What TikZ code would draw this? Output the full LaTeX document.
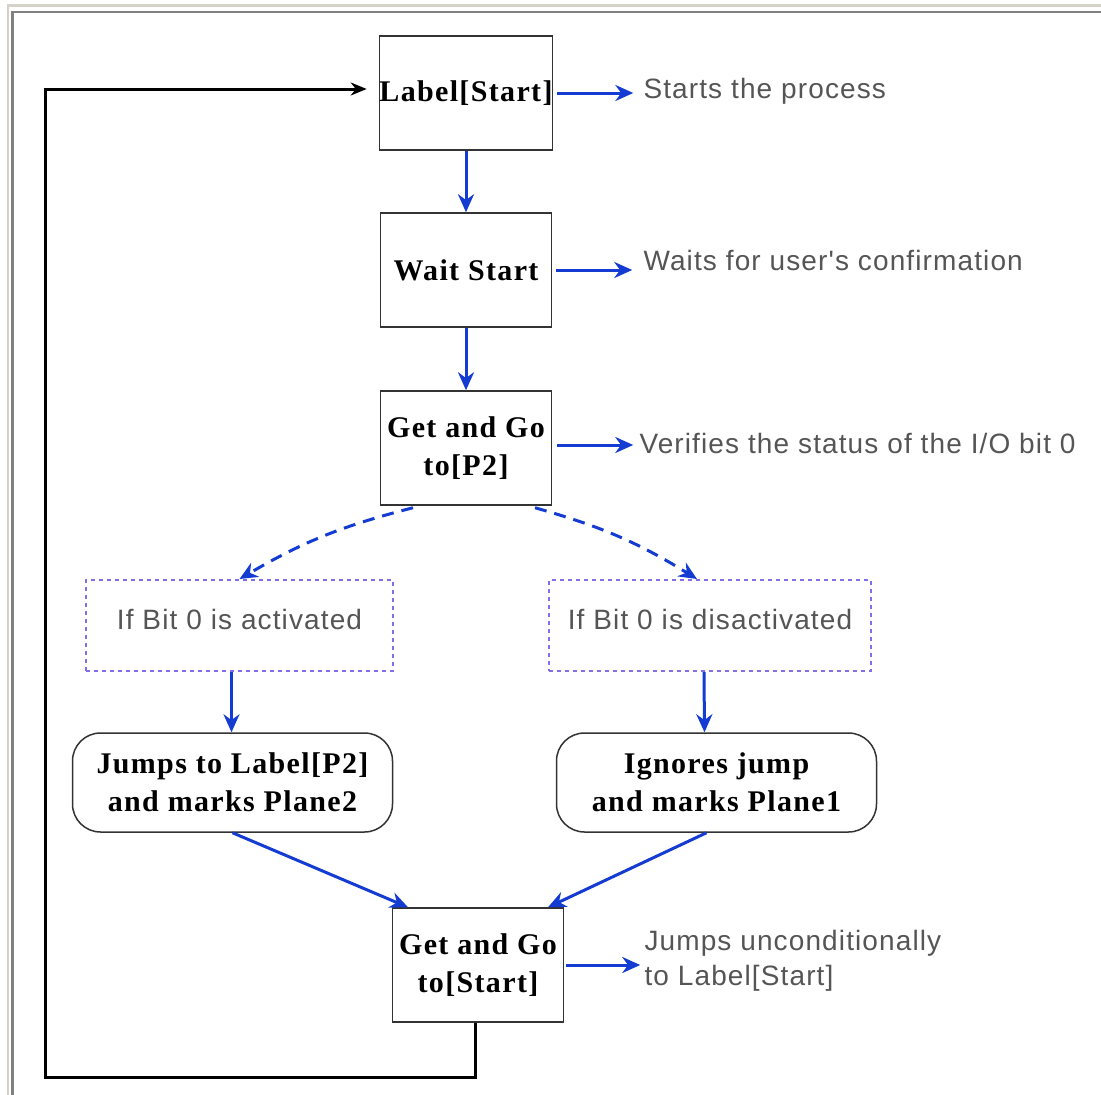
\documentclass[tikz,border=0pt]{standalone}
\usepackage{fontspec}
\setmainfont[LetterSpace=4.5]{Liberation Serif}
\newfontfamily\notefont[LetterSpace=4]{Liberation Sans}
\usetikzlibrary{arrows.meta}
\definecolor{flowblue}{RGB}{20,60,210}
\definecolor{notegray}{RGB}{85,85,85}
\definecolor{condpurple}{RGB}{130,110,230}
\definecolor{edgebeige}{RGB}{214,210,200}
\tikzset{
  stepbox/.style={draw=black!80, line width=1.5pt, minimum width=171pt, minimum height=114pt,
    inner xsep=0pt, align=center, font=\fontsize{30}{38}\selectfont\bfseries},
  roundbox/.style={draw=black!80, line width=1.5pt, rounded corners=28pt, minimum width=320pt,
    minimum height=99pt, align=center, font=\fontsize{30}{38}\selectfont\bfseries},
  condbox/.style={draw=condpurple, line width=2pt, dash pattern=on 4pt off 4pt,
    minimum height=91pt, text depth=12pt, font=\notefont\fontsize{28}{34}\selectfont, text=notegray},
  note/.style={anchor=west, align=left, font=\notefont\fontsize{28}{35}\selectfont, text=notegray},
  flow/.style={flowblue, line width=3pt, -{Stealth[length=18pt,width=16pt]}},
  jump/.style={flow, dashed, dash pattern=on 12pt off 8pt}
}

\begin{document}
\begin{tikzpicture}[x=1pt, y=-1pt]
    \useasboundingbox (0,0) rectangle (1101,1095);
    % frame of the screenshot
    \draw[edgebeige, line width=2.5pt] (8,1095) -- (8,5.5) -- (1101,5.5);
    \draw[black!50, line width=2.5pt] (12.5,1095) -- (12.5,12) -- (1101,12);

    % main column
    \node[stepbox] (start) at (466,93) {Label[Start]};
    \node[stepbox] (wait) at (466,270) {Wait Start};
    \node[stepbox] (getp) at (466,448) {Get and Go\\to[P2]};
    \node[condbox, minimum width=307pt] (act) at (239.5,625.5) {If Bit 0 is activated};
    \node[condbox, minimum width=322pt] (deact) at (710,625.5) {If Bit 0 is disactivated};
    \node[roundbox] (plane2) at (232.5,782.5) {Jumps to Label[P2]\\and marks Plane2};
    \node[roundbox] (plane1) at (716.5,782.5) {Ignores jump\\and marks Plane1};
    \node[stepbox] (getstart) at (478,965) {Get and Go\\to[Start]};

    % notes
    \node[note] (n1) at (640,91) {Starts the process};
    \node[note] (n2) at (640,260) {Waits for user's confirmation};
    \node[note] (n3) at (636,443) {Verifies the status of the I/O bit 0};
    \node[note] (n4) at (641,961) {Jumps unconditionally\\to Label[Start]};

    % connectors
    \draw[flow] (start) -- (wait);
    \draw[flow] (wait) -- (getp);
    \draw[jump] (getp.south) ++(-53,2) coordinate (l0) (l0) to[bend right=8] (act.north);
    \draw[jump] (getp.south) ++(69,2) coordinate (r0) (r0) to[bend left=8] ([xshift=-13pt]deact.north);
    \draw[flow] ([xshift=-8pt]act.south) -- ([xshift=-1pt]plane2.north);
    \draw[flow] ([xshift=-6pt]deact.south) -- ([xshift=-12pt]plane1.north);
    \draw[flow] (plane2.south) -- ([xshift=-70pt]getstart.north);
    \draw[flow] ([xshift=-10pt]plane1.south) -- ([xshift=70pt]getstart.north);

    \draw[flow] ([xshift=4pt]start.east) -- ++(76,0);
    \draw[flow] ([xshift=4pt]wait.east) -- ++(76,0);
    \draw[flow] ([xshift=5pt,yshift=3pt]getp.east) -- ++(76,0);
    \draw[flow] ([xshift=2pt]getstart.east) -- ++(74,0);

    % loop back to the start
    \coordinate (loopb) at (45,1077);
    \draw[black, line width=3pt, -{Stealth[length=16pt,width=13pt]}]
        ([xshift=-3pt]getstart.south) |- (loopb) |- ([xshift=-12pt,yshift=4pt]start.west);
\end{tikzpicture}
\end{document}
